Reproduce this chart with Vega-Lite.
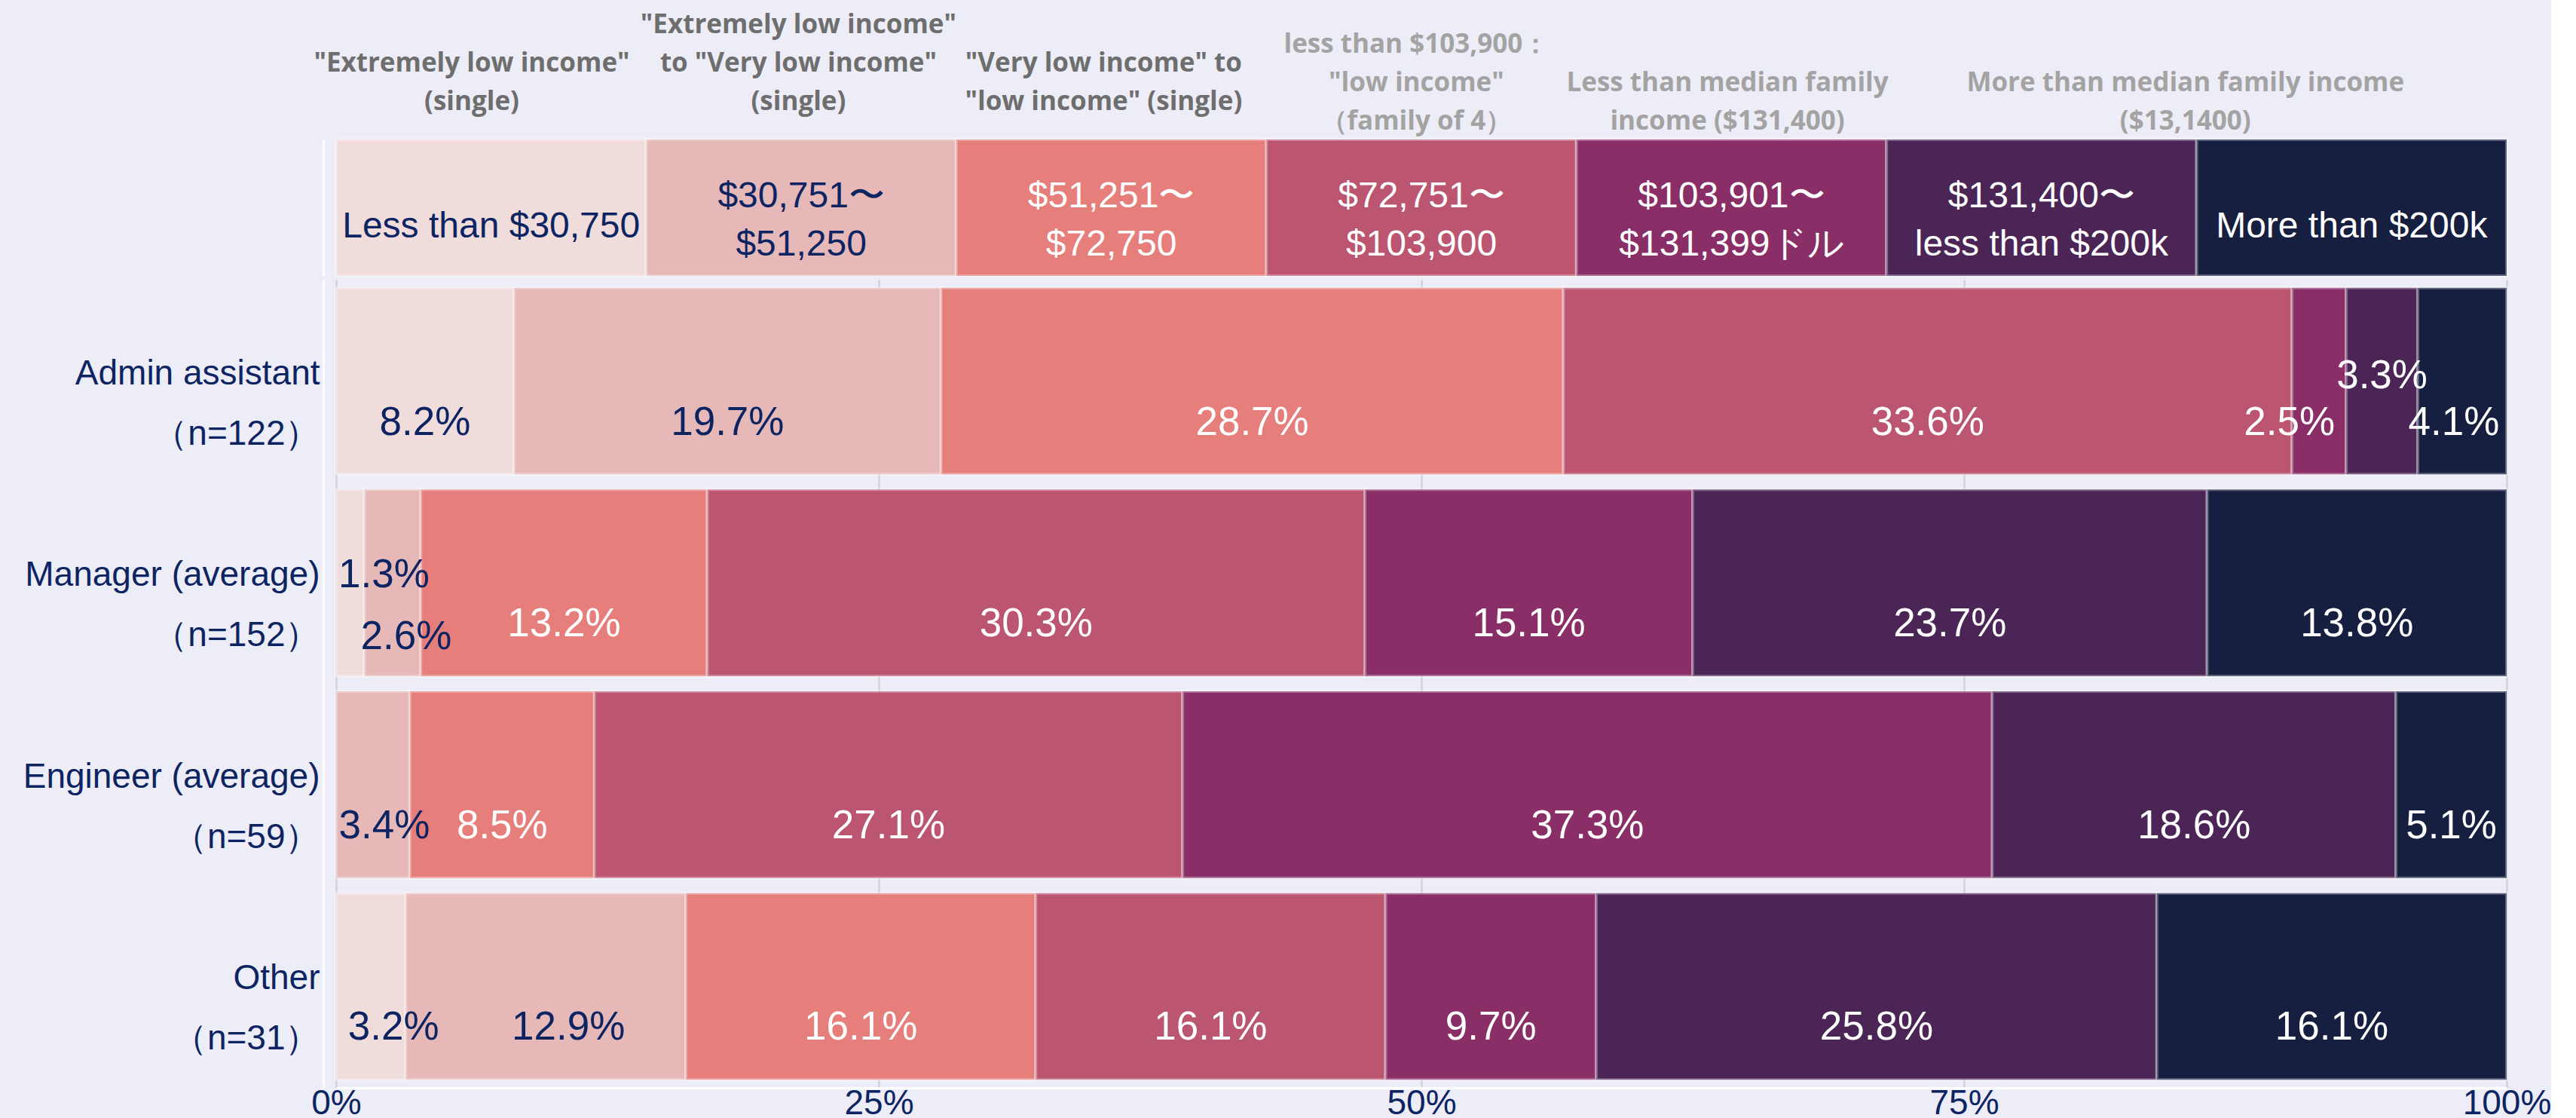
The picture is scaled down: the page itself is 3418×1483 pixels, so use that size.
{
  "$schema": "https://vega.github.io/schema/vega-lite/v6.json",
  "background": "#EDEDF7",
  "padding": {"left": 30, "top": 0, "right": 0, "bottom": 0},
  "config": {"view": {"stroke": null}, "font": "Liberation Sans"},
  "datasets": {
    "headers": [
      {"basis": "single", "at": 0.0625, "level": 3, "line": "\"Extremely low income\""},
      {"basis": "single", "at": 0.0625, "level": 5, "line": "(single)"},
      {"basis": "single", "at": 0.213, "level": 1, "line": "\"Extremely low income\""},
      {"basis": "single", "at": 0.213, "level": 3, "line": "to \"Very low income\""},
      {"basis": "single", "at": 0.213, "level": 5, "line": "(single)"},
      {"basis": "single", "at": 0.3536, "level": 3, "line": "\"Very low income\" to"},
      {"basis": "single", "at": 0.3536, "level": 5, "line": "\"low income\" (single)"},
      {"basis": "family", "at": 0.4977, "level": 2, "line": "less than $103,900："},
      {"basis": "family", "at": 0.4977, "level": 4, "line": "\"low income\""},
      {"basis": "family", "at": 0.4977, "level": 6, "line": "（family of 4）"},
      {"basis": "family", "at": 0.641, "level": 4, "line": "Less than median family"},
      {"basis": "family", "at": 0.641, "level": 6, "line": "income ($131,400)"},
      {"basis": "family", "at": 0.852, "level": 4, "line": "More than median family income"},
      {"basis": "family", "at": 0.852, "level": 6, "line": "($13,1400)"}
    ],
    "brackets": [
      {"k": 1, "w": 1, "label": "Less than $30,750"},
      {"k": 2, "w": 1, "label": "$30,751〜\n$51,250"},
      {"k": 3, "w": 1, "label": "$51,251〜\n$72,750"},
      {"k": 4, "w": 1, "label": "$72,751〜\n$103,900"},
      {"k": 5, "w": 1, "label": "$103,901〜\n$131,399ドル"},
      {"k": 6, "w": 1, "label": "$131,400〜\nless than $200k"},
      {"k": 7, "w": 1, "label": "More than $200k"}
    ],
    "shares": [
      {"group": "Admin assistant\n（n=122）", "k": 1, "pct": 8.2},
      {"group": "Admin assistant\n（n=122）", "k": 2, "pct": 19.7},
      {"group": "Admin assistant\n（n=122）", "k": 3, "pct": 28.7},
      {"group": "Admin assistant\n（n=122）", "k": 4, "pct": 33.6},
      {"group": "Admin assistant\n（n=122）", "k": 5, "pct": 2.5},
      {"group": "Admin assistant\n（n=122）", "k": 6, "pct": 3.3},
      {"group": "Admin assistant\n（n=122）", "k": 7, "pct": 4.1},
      {"group": "Manager (average)\n（n=152）", "k": 1, "pct": 1.3},
      {"group": "Manager (average)\n（n=152）", "k": 2, "pct": 2.6},
      {"group": "Manager (average)\n（n=152）", "k": 3, "pct": 13.2},
      {"group": "Manager (average)\n（n=152）", "k": 4, "pct": 30.3},
      {"group": "Manager (average)\n（n=152）", "k": 5, "pct": 15.1},
      {"group": "Manager (average)\n（n=152）", "k": 6, "pct": 23.7},
      {"group": "Manager (average)\n（n=152）", "k": 7, "pct": 13.8},
      {"group": "Engineer (average)\n（n=59）", "k": 2, "pct": 3.4},
      {"group": "Engineer (average)\n（n=59）", "k": 3, "pct": 8.5},
      {"group": "Engineer (average)\n（n=59）", "k": 4, "pct": 27.1},
      {"group": "Engineer (average)\n（n=59）", "k": 5, "pct": 37.3},
      {"group": "Engineer (average)\n（n=59）", "k": 6, "pct": 18.6},
      {"group": "Engineer (average)\n（n=59）", "k": 7, "pct": 5.1},
      {"group": "Other\n（n=31）", "k": 1, "pct": 3.2},
      {"group": "Other\n（n=31）", "k": 2, "pct": 12.9},
      {"group": "Other\n（n=31）", "k": 3, "pct": 16.1},
      {"group": "Other\n（n=31）", "k": 4, "pct": 16.1},
      {"group": "Other\n（n=31）", "k": 5, "pct": 9.7},
      {"group": "Other\n（n=31）", "k": 6, "pct": 25.8},
      {"group": "Other\n（n=31）", "k": 7, "pct": 16.1}
    ]
  },
  "spacing": 5,
  "bounds": "flush",
  "resolve": {"scale": {"x": "independent", "y": "independent", "color": "independent"}},
  "vconcat": [
    {
      "width": 2880,
      "height": 180,
      "data": {"name": "headers"},
      "mark": {"type": "text", "font": "Open Sans", "fontWeight": "bold", "fontSize": 35, "baseline": "middle", "align": "center"},
      "encoding": {
        "x": {"field": "at", "type": "quantitative", "scale": {"domain": [0, 1], "nice": false, "zero": false}, "axis": null},
        "y": {"field": "level", "type": "quantitative", "scale": {"domain": [-0.3, 6.76], "reverse": true, "nice": false, "zero": false}, "axis": null},
        "text": {"field": "line"},
        "color": {"field": "basis", "type": "nominal", "scale": {"domain": ["single", "family"], "range": ["#6e6e6e", "#a3a3a3"]}, "legend": null}
      }
    },
    {
      "width": 2880,
      "height": 181,
      "data": {"name": "brackets"},
      "transform": [
        {"stack": "w", "groupby": [], "sort": [{"field": "k"}], "offset": "normalize", "as": ["x0", "x1"]},
        {"calculate": "(datum.x0 + datum.x1) / 2", "as": "xm"}
      ],
      "encoding": {
        "y": {"datum": "brackets", "type": "nominal", "scale": {"paddingInner": 0, "paddingOuter": 0},
          "axis": {"title": null, "labels": false, "ticks": false, "grid": false, "domainColor": "white", "domainWidth": 3, "offset": 17}}
      },
      "layer": [
        {
          "mark": {"type": "bar", "stroke": "white", "strokeOpacity": 0.3, "strokeWidth": 4},
          "encoding": {
            "x": {"field": "x0", "type": "quantitative", "scale": {"domain": [0, 1], "nice": false}, "axis": null},
            "x2": {"field": "x1"},
            "color": {"field": "k", "type": "ordinal", "scale": {"domain": [1, 2, 3, 4, 5, 6, 7], "range": ["#F0DCDB", "#E6B8B7", "#E67F7C", "#BC5570", "#8A2E67", "#4B2556", "#161F3F"]}, "legend": null}
          }
        },
        {
          "transform": [{"filter": "indexof(datum.label, '\\n') < 0"}],
          "mark": {"type": "text", "font": "Liberation Sans", "fontSize": 48, "dy": 25, "align": "center", "baseline": "middle"},
          "encoding": {
            "x": {"field": "xm", "type": "quantitative", "scale": {"domain": [0, 1], "nice": false}, "axis": null},
            "text": {"field": "label"},
            "color": {"condition": {"test": "datum.k <= 2", "value": "#0d2463"}, "value": "white"}
          }
        },
        {
          "transform": [{"filter": "indexof(datum.label, '\\n') >= 0"}],
          "mark": {"type": "text", "font": "Liberation Sans", "fontSize": 48, "lineBreak": "\n", "lineHeight": 64, "dy": -15, "align": "center", "baseline": "middle"},
          "encoding": {
            "x": {"field": "xm", "type": "quantitative", "scale": {"domain": [0, 1], "nice": false}, "axis": null},
            "text": {"field": "label"},
            "color": {"condition": {"test": "datum.k <= 2", "value": "#0d2463"}, "value": "white"}
          }
        }
      ]
    },
    {
      "width": 2880,
      "height": 1072,
      "data": {"name": "shares"},
      "transform": [
        {"stack": "pct", "groupby": ["group"], "sort": [{"field": "k"}], "offset": "normalize", "as": ["x0", "x1"]},
        {"calculate": "(datum.x0 + datum.x1) / 2", "as": "xm"},
        {"calculate": "format(datum.pct, '.1f') + '%'", "as": "lbl"}
      ],
      "encoding": {
        "y": {
          "field": "group", "type": "nominal",
          "sort": ["Admin assistant\n（n=122）", "Manager (average)\n（n=152）", "Engineer (average)\n（n=59）", "Other\n（n=31）"],
          "scale": {"paddingInner": 0.075, "paddingOuter": 0.04},
          "axis": {"title": null, "labelExpr": "split(datum.label, '\\n')", "labelFont": "Liberation Sans", "labelFontSize": 46, "labelColor": "#0d2463", "labelLineHeight": 80, "labelOffset": -10, "labelPadding": 5, "labelLimit": 0, "ticks": false, "grid": false, "domainColor": "white", "domainWidth": 3, "offset": 17}
        }
      },
      "layer": [
        {
          "mark": {"type": "bar", "stroke": "white", "strokeOpacity": 0.3, "strokeWidth": 4},
          "encoding": {
            "x": {"field": "x0", "type": "quantitative", "title": null, "scale": {"domain": [0, 1], "nice": false},
              "axis": {"values": [0, 0.25, 0.5, 0.75, 1], "format": ".0%", "labelFont": "Liberation Sans", "labelFontSize": 46, "labelColor": "#0d2463", "labelPadding": -2, "labelFlush": false, "ticks": false, "domainColor": "white", "domainWidth": 3, "gridColor": "#d6d6de", "gridWidth": 3}},
            "x2": {"field": "x1"},
            "color": {"field": "k", "type": "ordinal", "scale": {"domain": [1, 2, 3, 4, 5, 6, 7], "range": ["#F0DCDB", "#E6B8B7", "#E67F7C", "#BC5570", "#8A2E67", "#4B2556", "#161F3F"]}, "legend": null}
          }
        },
        {
          "transform": [{"filter": "!(indexof(datum.group, 'Admin') == 0 && datum.k >= 5) && !(indexof(datum.group, 'Manager') == 0 && datum.k <= 2) && !(indexof(datum.group, 'Other') == 0 && datum.k <= 2) && !(indexof(datum.group, 'Engineer') == 0 && datum.k == 2)"}],
          "mark": {"type": "text", "font": "Liberation Sans", "fontSize": 53, "dy": 55, "align": "center", "baseline": "middle"},
          "encoding": {
            "x": {"field": "xm", "type": "quantitative", "title": null},
            "text": {"field": "lbl"},
            "color": {"condition": {"test": "datum.k <= 2", "value": "#0d2463"}, "value": "white"}
          }
        },
        {
          "transform": [{"filter": "indexof(datum.group, 'Admin') == 0 && datum.k == 6"}],
          "mark": {"type": "text", "font": "Liberation Sans", "fontSize": 53, "dy": -7, "align": "center", "baseline": "middle", "color": "white"},
          "encoding": {
            "x": {"field": "xm", "type": "quantitative", "title": null},
            "text": {"field": "lbl"}
          }
        },
        {
          "transform": [{"filter": "indexof(datum.group, 'Admin') == 0 && datum.k == 5"}],
          "mark": {"type": "text", "font": "Liberation Sans", "fontSize": 53, "dy": 55, "dx": -15, "align": "right", "baseline": "middle", "color": "white"},
          "encoding": {
            "x": {"field": "x1", "type": "quantitative", "title": null},
            "text": {"field": "lbl"}
          }
        },
        {
          "transform": [{"filter": "indexof(datum.group, 'Admin') == 0 && datum.k == 7"}],
          "mark": {"type": "text", "font": "Liberation Sans", "fontSize": 53, "dy": 55, "dx": -11, "align": "center", "baseline": "middle", "color": "white"},
          "encoding": {
            "x": {"field": "xm", "type": "quantitative", "title": null},
            "text": {"field": "lbl"}
          }
        },
        {
          "transform": [{"filter": "indexof(datum.group, 'Manager') == 0 && datum.k == 1"}],
          "mark": {"type": "text", "font": "Liberation Sans", "fontSize": 53, "dy": -10, "dx": 3, "align": "left", "baseline": "middle", "color": "#0d2463"},
          "encoding": {
            "x": {"field": "x0", "type": "quantitative", "title": null},
            "text": {"field": "lbl"}
          }
        },
        {
          "transform": [{"filter": "indexof(datum.group, 'Manager') == 0 && datum.k == 2"}],
          "mark": {"type": "text", "font": "Liberation Sans", "fontSize": 53, "dy": 72, "dx": 18, "align": "center", "baseline": "middle", "color": "#0d2463"},
          "encoding": {
            "x": {"field": "xm", "type": "quantitative", "title": null},
            "text": {"field": "lbl"}
          }
        },
        {
          "transform": [{"filter": "indexof(datum.group, 'Engineer') == 0 && datum.k == 2"}],
          "mark": {"type": "text", "font": "Liberation Sans", "fontSize": 53, "dy": 55, "dx": 15, "align": "center", "baseline": "middle", "color": "#0d2463"},
          "encoding": {
            "x": {"field": "xm", "type": "quantitative", "title": null},
            "text": {"field": "lbl"}
          }
        },
        {
          "transform": [{"filter": "indexof(datum.group, 'Other') == 0 && datum.k <= 2"}],
          "mark": {"type": "text", "font": "Liberation Sans", "fontSize": 53, "dy": 55, "dx": 30, "align": "center", "baseline": "middle", "color": "#0d2463"},
          "encoding": {
            "x": {"field": "xm", "type": "quantitative", "title": null},
            "text": {"field": "lbl"}
          }
        }
      ]
    }
  ]
}
